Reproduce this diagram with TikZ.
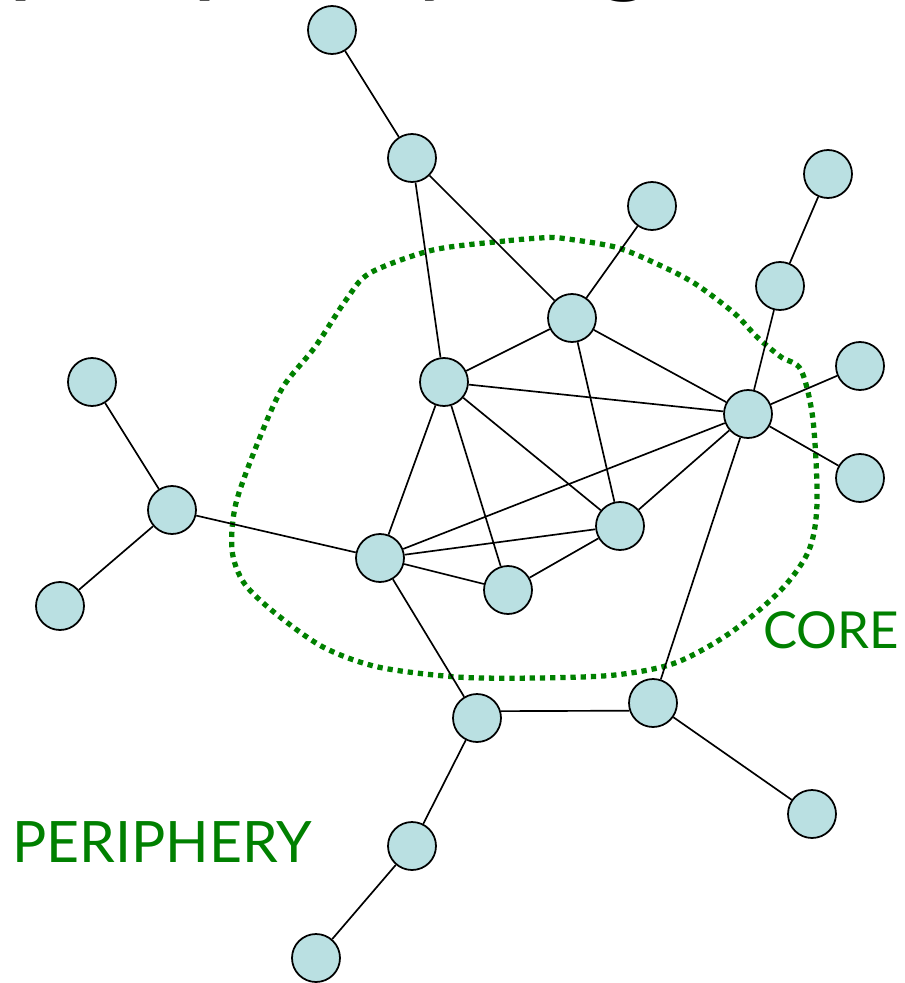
\documentclass[tikz,border=0pt]{standalone}
\usepackage{fontspec}
\setmainfont{Lato}
\definecolor{nodefill}{RGB}{186,224,226}
\definecolor{labgreen}{RGB}{0,128,0}
\begin{document}
\begin{tikzpicture}[x=0.2mm,y=-0.2mm,
  vtx/.style={circle,draw=black,line width=1pt,fill=nodefill,minimum size=9.6mm,inner sep=0pt},
  edge/.style={draw=black,line width=0.95pt},
  coreline/.style={draw=labgreen,line width=3pt,dash pattern=on 3pt off 2.8pt},
  lab/.style={text=labgreen,inner sep=0pt}]
\useasboundingbox (0,0) rectangle (905,983);
\begin{scope}
\clip (0,0) rectangle (905,983);
\node[anchor=base west,inner sep=0pt,font=\fontsize{62}{62}\selectfont] (title) at (8,-17) {periphery organization};
\end{scope}
% core boundary
\draw[coreline] plot[smooth cycle,tension=0.5] coordinates {
 (540,238) (505,241) (433,250) (370,273) (346,300) (315,347) (283,387) (260,437)
 (236,503) (232,550) (244,583) (275,613) (323,647) (378,667) (457,677) (536,678)
 (615,675) (675,663) (730,633) (781,590) (809,550) (817,503) (813,420) (801,370)
 (781,357) (757,337) (734,313) (694,283) (655,263) (615,247) (560,238)};
% nodes
\node[vtx] (A) at (332,30) {};
\node[vtx] (B) at (412,158) {};
\node[vtx] (C) at (652,206) {};
\node[vtx] (D) at (828,174) {};
\node[vtx] (E) at (572,318) {};
\node[vtx] (F) at (780,286) {};
\node[vtx] (G) at (444,382) {};
\node[vtx] (H) at (748,414) {};
\node[vtx] (I) at (860,366) {};
\node[vtx] (J) at (860,478) {};
\node[vtx] (K) at (92,382) {};
\node[vtx] (L) at (172,510) {};
\node[vtx] (M) at (60,606) {};
\node[vtx] (N) at (380,558) {};
\node[vtx] (O) at (620,526) {};
\node[vtx] (P) at (508,590) {};
\node[vtx] (Q) at (477,718) {};
\node[vtx] (R) at (653,703) {};
\node[vtx] (S) at (812,814) {};
\node[vtx] (T) at (412,846) {};
\node[vtx] (U) at (316,958) {};
% edges
\foreach \a/\b in {A/B,B/G,B/E,E/C,D/F,F/H,H/I,H/J,E/G,E/H,E/O,G/H,G/O,G/P,G/N,
  N/H,N/O,N/P,P/O,O/H,K/L,L/M,L/N,N/Q,R/H,R/S,Q/T,T/U}
  \draw[edge] (\a) -- (\b);
\draw[edge] (Q.16) -- (R.198);
% labels
\node[lab,anchor=base west,font=\fontsize{29}{29}\selectfont] (core) at (763,648) {CORE};
\node[lab,anchor=base west,font=\fontsize{32.5}{33}\selectfont] (peri) at (12,862) {PERIPHERY};
\end{tikzpicture}
\end{document}
